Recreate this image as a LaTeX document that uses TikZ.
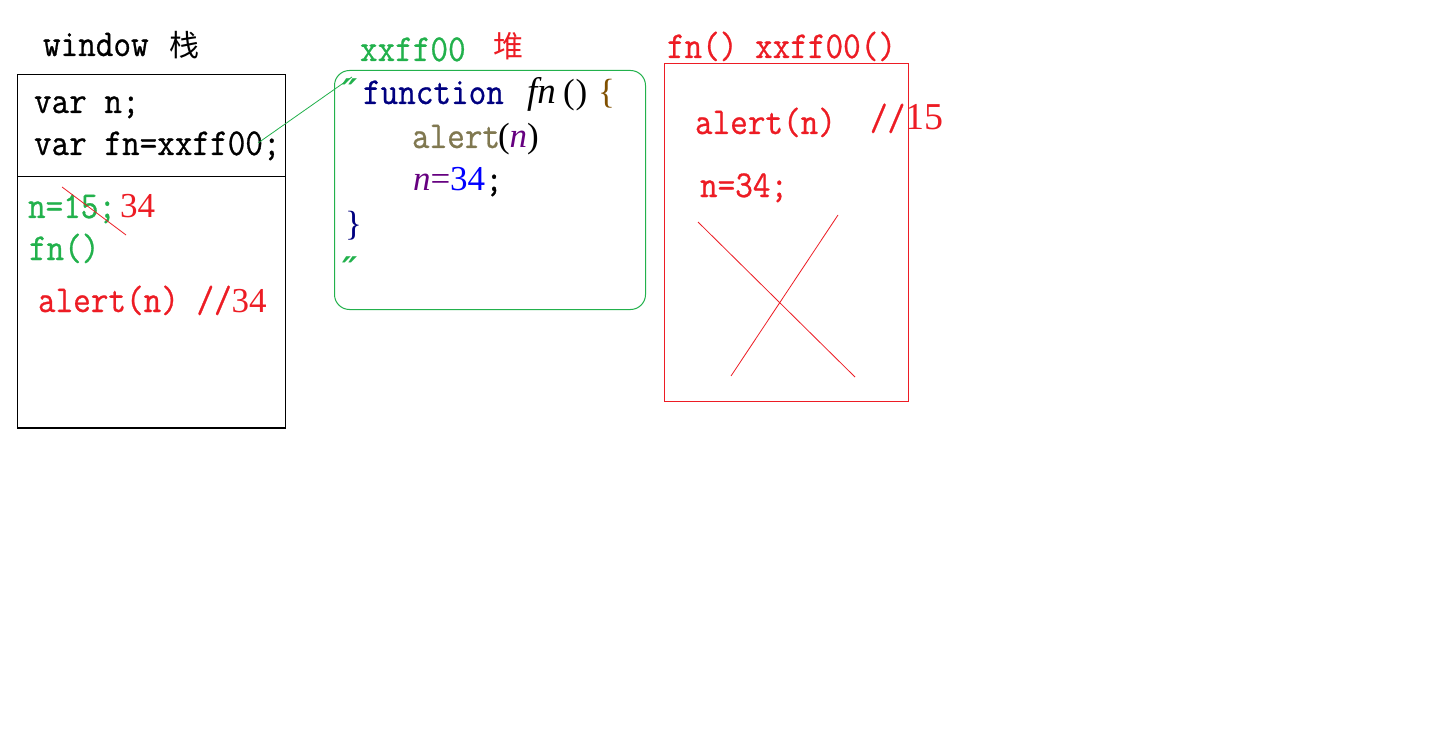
\documentclass[tikz,border=0pt]{standalone}
\usepackage{fontspec}
\newfontfamily\monofam[FakeStretch=0.9,FakeBold=0.7]{Latin Modern Mono}
\newfontfamily\seriffam{Liberation Serif}
\newfontfamily\cjkfam{Noto Sans CJK SC}
\newfontfamily\dvfam{DejaVu Serif}
\newcommand\monoF{\monofam\fontsize{38}{44}\selectfont}
\newcommand\serifF{\seriffam\fontsize{35}{40}\selectfont}
\newcommand\cjkF{\cjkfam\fontsize{30}{36}\selectfont}
\newcommand\dvF{\dvfam\bfseries\itshape\fontsize{34}{40}\selectfont}
\definecolor{pgreen}{RGB}{34,177,76}
\definecolor{pred}{RGB}{237,28,36}
\definecolor{navy}{RGB}{0,0,128}
\definecolor{olivegrey}{RGB}{128,120,80}
\definecolor{npurple}{RGB}{102,0,128}
\definecolor{brace}{RGB}{128,80,0}
\begin{document}
\begin{tikzpicture}[x=1pt,y=-1pt,
  txt/.style={anchor=base west,inner sep=0pt,outer sep=0pt,font=\monoF},
  stxt/.style={anchor=base west,inner sep=0pt,outer sep=0pt,font=\serifF},
  boxnode/.style={anchor=north west,inner sep=0pt,outer sep=0pt}]
\useasboundingbox[fill=white] (0,0) rectangle (1442,730);

% ---- stack (window) ----
\node[txt] (win) at (43,56) {window};
\node[anchor=base west,inner sep=0pt,font=\cjkF] (zhan) at (169,57) {栈};
\node[boxnode,draw=black,line width=1.2pt,minimum width=268pt,minimum height=353.5pt] (stack) at (17.5,74.5) {};
\path (stack.north west) ++(0,102) coordinate (sepL);
\path (stack.north east) ++(0,102) coordinate (sepR);
\draw[line width=1.2pt] (sepL) -- (sepR);
\node[txt] (varn) at (34,113) {var n;};
\node[txt] (varfn) at (34,155) {var fn=xxff00;};
\node[txt,text=pgreen] (n15) at (28,218) {n=15;};
\node[stxt,text=pred] (n34) at (120,218) {34};
\node[txt,text=pgreen] (fncall) at (29,260) {fn()};
\node[txt,text=pred] (alert1) at (38,312) {alert(n) //};
\node[stxt,text=pred] (c34) at (alert1.base east) {34};
\coordinate (strikeA) at (62,187);
\coordinate (strikeB) at (126,235);
\draw[pred,line width=0.8pt] (strikeA) -- (strikeB);

% ---- heap ----
\node[txt,text=pgreen] (addr) at (360,61) {xxff00};
\node[anchor=base west,inner sep=0pt,font=\cjkF,text=pred] (dui) at (493,58) {堆};
\node[boxnode,draw=pgreen,line width=1pt,rounded corners=15pt,minimum width=311pt,minimum height=239pt] (heap) at (334.5,70.5) {};
\node[anchor=base west,inner sep=0pt,font=\dvF,text=pgreen] (q1) at (342,104) {″};
\node[txt,text=navy] (func) at (363,104) {function};
\node[stxt,font=\seriffam\itshape\fontsize{37}{44}\selectfont] (fnname) at (527,104) {fn};
\node[stxt] (paren) at (563,104) {(\kern1pt)};
\node[stxt,text=brace] (lbrace) at (598,104) {\{};
\node[txt,text=olivegrey] (alertw) at (412,148) {alert};
\node[stxt] (lp) at (498,148) {(};
\node[stxt,text=npurple] (nvar) at (lp.base east) {\itshape n};
\node[stxt] (rp) at (nvar.base east) {)};
\node[stxt,text=npurple] (n2) at (413,191) {\itshape n};
\node[stxt,text=npurple] (eq) at (n2.base east) {=};
\node[stxt,text=blue] (v34) at (eq.base east) {34};
\node[txt] (semi) at (v34.base east) {;};
\node[stxt,text=navy] (rbrace) at (345,235) {\}};
\node[anchor=base west,inner sep=0pt,font=\dvF,text=pgreen] (q2) at (342,281) {″};

% pointer from variable to heap object
\coordinate (ptrA) at (258,143);
\coordinate (ptrB) at (352,77);
\draw[pgreen,line width=0.8pt] (ptrA) -- (ptrB);

% ---- execution context ----
\node[txt,text=pred] (ctx) at (667,58) {fn() xxff00()};
\node[boxnode,draw=pred,line width=1pt,minimum width=243.5pt,minimum height=337.5pt] (exec) at (664.5,63.5) {};
\node[txt,text=pred] (alert2) at (695,134) {alert(n)};
\node[txt,text=pred] (cm) at (870,130) {//};
\node[stxt,text=pred,font=\seriffam\fontsize{38}{40}\selectfont] (c15) at (cm.base east) {15};
\node[txt,text=pred] (assign) at (700,197) {n=34;};
\coordinate (xA) at (698,222);
\coordinate (xB) at (855,377);
\coordinate (xC) at (838,215);
\coordinate (xD) at (731,376);
\draw[pred,line width=0.8pt] (xA) -- (xB);
\draw[pred,line width=0.8pt] (xC) -- (xD);
\end{tikzpicture}
\end{document}
